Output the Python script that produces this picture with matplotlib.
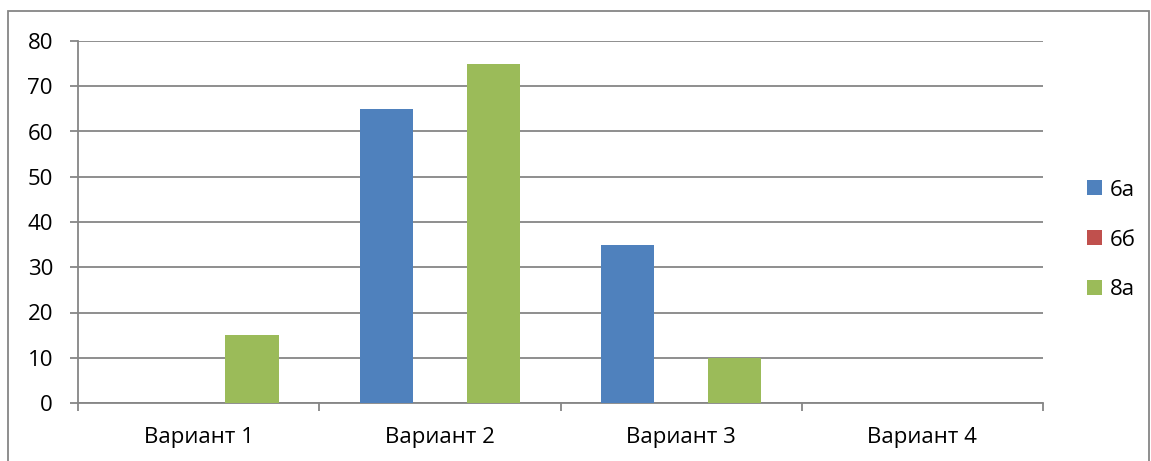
import matplotlib.pyplot as plt
import numpy as np
from matplotlib.patches import Rectangle

plt.rcParams['font.family'] = ['Open Sans', 'DejaVu Sans']

categories = ["Вариант 1", "Вариант 2", "Вариант 3", "Вариант 4"]
series_names = ["6а", "6б", "8а"]
values_6a = [0, 65, 35, 0]
values_6b = [0, 0, 0, 0]
values_8a = [15, 75, 10, 0]
colors = ["#4F81BD", "#C0504D", "#9BBB59"]

W, H = 1151, 461
fig = plt.figure(figsize=(W / 100, H / 100), dpi=100)
ax = fig.add_axes([78 / W, 1 - 403 / H, (1043 - 78) / W, (403 - 41) / H])

# outer chart border
fig.patches.append(Rectangle((8 / W, -0.01), (1149 - 8) / W, 1 - 11 / H + 0.01,
                             transform=fig.transFigure, fill=False,
                             edgecolor="#868686", linewidth=1.3))

grid_c = "#868686"
x = np.arange(len(categories))
bw = 0.221
for i, (vals, name) in enumerate(zip([values_6a, values_6b, values_8a], series_names)):
    ax.bar(x + (i - 1) * bw, vals, width=bw, color=colors[i], label=name, zorder=3)

ax.set_xlim(-0.5, len(categories) - 0.5)
ax.set_ylim(0, 80)
ax.set_yticks(range(0, 81, 10))
ax.yaxis.grid(True, color=grid_c, linewidth=1.3, zorder=0)
ax.set_xticks(x)
ax.set_xticklabels(categories)
ax.tick_params(axis='x', length=0, pad=17, labelsize=16)
ax.set_xticks(np.arange(-0.5, len(categories)), minor=True)
ax.tick_params(axis='x', which='minor', length=6, width=1.3, color=grid_c)
ax.tick_params(axis='y', length=6, width=1.3, color=grid_c, pad=12, labelsize=16)

for s in ['top', 'right']:
    ax.spines[s].set_visible(False)
for s in ['left', 'bottom']:
    ax.spines[s].set_color(grid_c)
    ax.spines[s].set_linewidth(1.3)

fig.legend(loc="center left", bbox_to_anchor=(1067 / W, 1 - 240 / H), frameon=False,
           fontsize=16, handlelength=0.68, handleheight=0.68, labelspacing=1.3,
           handletextpad=0.35)

fig.savefig("out.png", dpi=100)
